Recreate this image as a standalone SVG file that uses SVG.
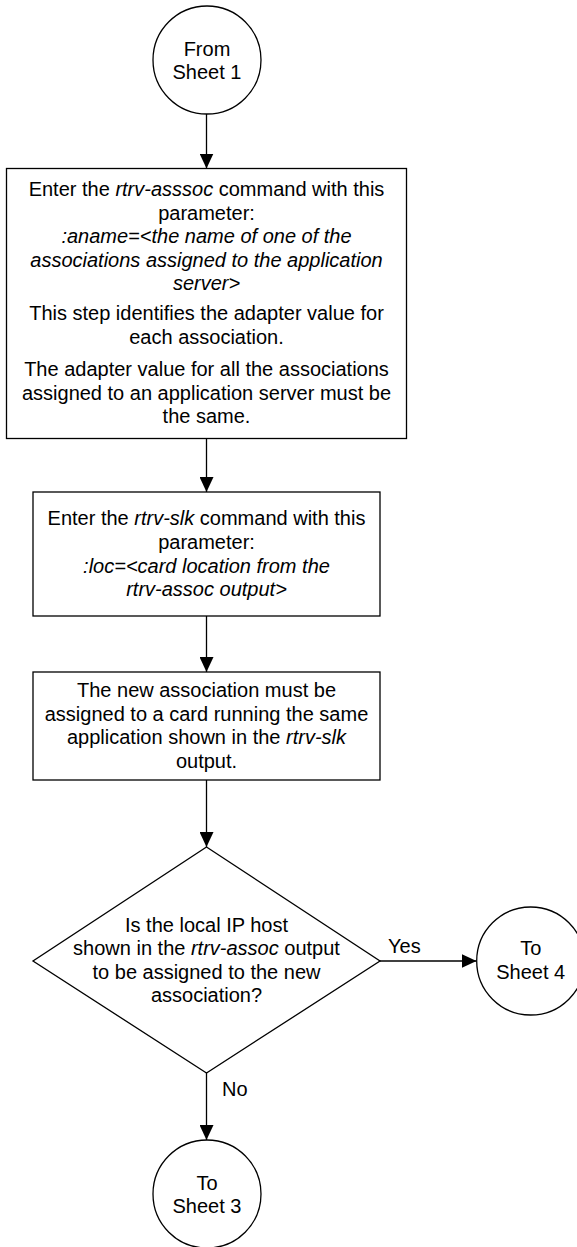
<svg xmlns="http://www.w3.org/2000/svg" width="577" height="1247" viewBox="0 0 577 1247">
<style>
.s{fill:#fff;stroke:#000;stroke-width:1.3}
.c{fill:none;stroke:#000;stroke-width:1.3}
text{font-family:"Liberation Sans",Arial,sans-serif;font-size:20px;fill:#000}
.m{text-anchor:middle}
.i{font-style:italic}
</style>
<defs>
<marker id="ah" markerUnits="userSpaceOnUse" markerWidth="15" markerHeight="14" refX="15" refY="7" orient="auto">
<path d="M0,0 L15,7 L0,14 z" fill="#000"/>
</marker>
</defs>
<rect width="577" height="1247" fill="#fff"/>
<g id="connectors">
<line class="c" x1="206.5" y1="114" x2="206.5" y2="168.5" marker-end="url(#ah)"/>
<line class="c" x1="206.5" y1="438.5" x2="206.5" y2="492" marker-end="url(#ah)"/>
<line class="c" x1="206.5" y1="616" x2="206.5" y2="672" marker-end="url(#ah)"/>
<line class="c" x1="206.5" y1="780" x2="206.5" y2="847" marker-end="url(#ah)"/>
<line class="c" x1="380" y1="961" x2="476.5" y2="961" marker-end="url(#ah)"/>
<line class="c" x1="206.5" y1="1073" x2="206.5" y2="1140" marker-end="url(#ah)"/>
<text x="388" y="953">Yes</text>
<text x="222" y="1096">No</text>
</g>
<g id="start">
<circle class="s" cx="207" cy="60" r="54"/>
<text class="m" x="207" y="56">From</text>
<text class="m" x="207" y="79">Sheet 1</text>
</g>
<g id="step1">
<rect class="s" x="6.5" y="168.5" width="400" height="270"/>
<text class="m" x="206.5" y="196">Enter the <tspan class="i">rtrv-asssoc</tspan> command with this</text>
<text class="m" x="206.5" y="219.5">parameter:</text>
<text class="m i" x="206.5" y="243">:aname=&lt;the name of one of the</text>
<text class="m i" x="206.5" y="266.5">associations assigned to the application</text>
<text class="m i" x="206.5" y="290">server&gt;</text>
<text class="m" x="206.5" y="320">This step identifies the adapter value for</text>
<text class="m" x="206.5" y="343.5">each association.</text>
<text class="m" x="206.5" y="376">The adapter value for all the associations</text>
<text class="m" x="206.5" y="399.5">assigned to an application server must be</text>
<text class="m" x="206.5" y="423">the same.</text>
</g>
<g id="step2">
<rect class="s" x="33" y="492" width="347" height="124"/>
<text class="m" x="206.5" y="525">Enter the <tspan class="i">rtrv-slk</tspan> command with this</text>
<text class="m" x="206.5" y="549">parameter:</text>
<text class="m i" x="206.5" y="573">:loc=&lt;card location from the</text>
<text class="m i" x="206.5" y="596">rtrv-assoc output&gt;</text>
</g>
<g id="step3">
<rect class="s" x="33" y="672" width="347" height="108"/>
<text class="m" x="206.5" y="697">The new association must be</text>
<text class="m" x="206.5" y="721">assigned to a card running the same</text>
<text class="m" x="206.5" y="744">application shown in the <tspan class="i">rtrv-slk</tspan></text>
<text class="m" x="206.5" y="768">output.</text>
</g>
<g id="decision">
<polygon class="s" points="206.5,847 380,961 206.5,1073 33,961"/>
<text class="m" x="206.5" y="932">Is the local IP host</text>
<text class="m" x="206.5" y="955">shown in the <tspan class="i">rtrv-assoc</tspan> output</text>
<text class="m" x="206.5" y="979">to be assigned to the new</text>
<text class="m" x="206.5" y="1002">association?</text>
</g>
<g id="sheet4">
<circle class="s" cx="530.7" cy="961" r="54"/>
<text class="m" x="530.7" y="955">To</text>
<text class="m" x="530.7" y="979">Sheet 4</text>
</g>
<g id="sheet3">
<circle class="s" cx="207" cy="1194" r="54"/>
<text class="m" x="207" y="1190">To</text>
<text class="m" x="207" y="1213">Sheet 3</text>
</g>
</svg>
